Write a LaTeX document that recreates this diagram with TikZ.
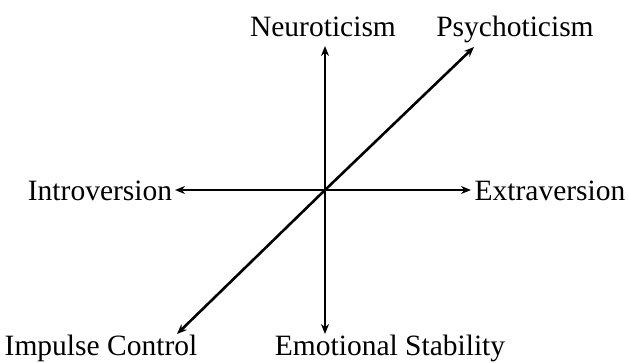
\documentclass[tikz,border=0pt]{standalone}
\usepackage{fontspec}
\setmainfont{Liberation Serif}
\usetikzlibrary{arrows.meta}
\begin{document}
\begin{tikzpicture}[x=1pt,y=-1pt,
  lbl/.style={inner sep=0pt,anchor=base,font=\fontsize{29.5}{34}\selectfont},
  axis/.style={line width=2.6pt,-{Stealth[length=10pt,width=8pt]}}]
\useasboundingbox (0,0) rectangle (629,362);
\coordinate (o) at (325,190);
\coordinate (top) at (325,46);
\coordinate (bot) at (325,334);
\coordinate (lft) at (175,190);
\coordinate (rgt) at (471,190);
\coordinate (ur) at (474,47);
\coordinate (ll) at (177,334);
\node[lbl] (neu) at (323,36) {Neuroticism};
\node[lbl] (psy) at (515,36) {Psychoticism};
\node[lbl] (intro) at (100,200) {Introversion};
\node[lbl] (extra) at (550,200) {Extraversion};
\node[lbl] (imp) at (101,355) {Impulse Control};
\node[lbl] (emo) at (390,355) {Emotional Stability};
\draw[axis] (o) -- (top);
\draw[axis] (o) -- (bot);
\draw[axis] (o) -- (lft);
\draw[axis] (o) -- (rgt);
\draw[axis] (o) -- (ur);
\draw[axis] (o) -- (ll);
\end{tikzpicture}
\end{document}
